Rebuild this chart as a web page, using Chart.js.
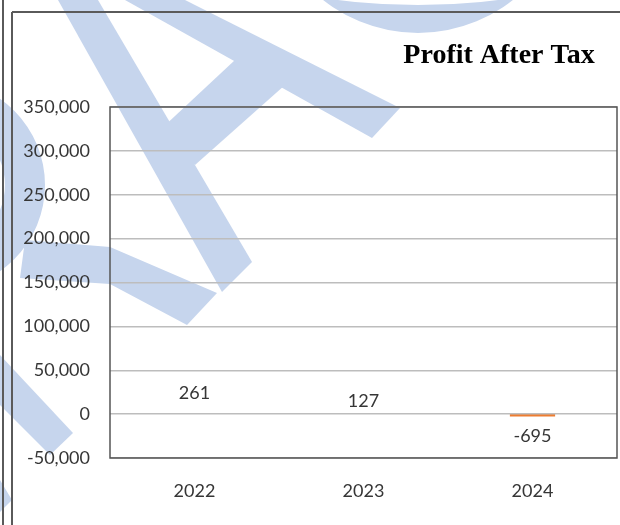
<!DOCTYPE html>
<html>
<head>
<meta charset="utf-8">
<title>Profit After Tax</title>
<script src="https://cdn.jsdelivr.net/npm/chart.js@4.4.1/dist/chart.umd.min.js"></script>
<style>
  html, body { margin: 0; padding: 0; background: #fff; }
  #wrap { width: 620px; height: 525px; position: relative; }
</style>
</head>
<body>
<div id="wrap"><canvas id="Chart"></canvas></div>
<script>
/* chart data */
const years = ['2022', '2023', '2024']
const profitAfterTax = [261, 127, -695]
const yTicks = [-50000, 0, 50000, 100000, 150000, 200000, 250000, 300000, 350000]
const chartTitle = 'Profit After Tax'
const barColors = ['#4472c4', '#4472c4', '#ed7d31']

const textFamily = 'Lato, "Liberation Sans", sans-serif'
const textColor = '#363636'

/* light blue watermark that sits behind the scan */
const watermark = {
	id: 'watermark',
	beforeDraw(chart) {
		const ctx = chart.ctx
		ctx.save()
		ctx.fillStyle = '#ffffff'
		ctx.fillRect(0, 0, chart.width, chart.height)
		ctx.fillStyle = 'rgb(198, 213, 237)'
		const poly = (pts) => {
			ctx.beginPath()
			pts.forEach(([x, y], i) => (i ? ctx.lineTo(x, y) : ctx.moveTo(x, y)))
			ctx.closePath()
			ctx.fill()
		}
		const ring = (cx, cy, r1, cx2, cy2, r2) => {
			ctx.beginPath()
			ctx.arc(cx, cy, r1, 0, Math.PI * 2)
			ctx.moveTo(cx2 + r2, cy2)
			ctx.arc(cx2, cy2, r2, 0, Math.PI * 2)
			ctx.fill('evenodd')
		}
		poly([[58, 0], [98, 0], [252, 262], [222, 292]])
		poly([[125, 0], [185, 0], [400, 108], [372, 138]])
		poly([[160, 130], [235, 60], [285, 85], [195, 165]])
		ring(418, -120, 153, 418, -637, 642)
		ring(-60, 185, 105, -60, 185, 65)
		poly([[25, 240], [110, 247], [217, 293], [187, 325], [110, 284], [20, 278]])
		poly([[0, 355], [73, 433], [50, 455], [0, 405]])
		poly([[0, 480], [12, 500], [0, 512]])
		ctx.restore()
	}
}

/* page frame, plot box and title */
const frame = {
	id: 'frame',
	afterDraw(chart) {
		const ctx = chart.ctx
		const { left, top, right, bottom } = chart.chartArea
		ctx.save()
		ctx.strokeStyle = '#5a5a5a'
		ctx.lineWidth = 2
		ctx.beginPath()
		ctx.moveTo(3, 0)
		ctx.lineTo(3, chart.height)
		ctx.moveTo(12, 12)
		ctx.lineTo(12, chart.height)
		ctx.moveTo(12, 12)
		ctx.lineTo(chart.width, 12)
		ctx.stroke()
		ctx.strokeStyle = '#555555'
		ctx.lineWidth = 1.5
		ctx.strokeRect(left, top, right - left, bottom - top)

		ctx.fillStyle = '#000000'
		ctx.font = 'bold 28px "Liberation Serif", "Times New Roman", serif'
		ctx.textAlign = 'center'
		ctx.textBaseline = 'alphabetic'
		ctx.fillText(chartTitle, 499, 63)
		ctx.restore()
	}
}

/* value labels next to each bar */
const labelLift = [21, 13, 21]
const valueLabels = {
	id: 'valueLabels',
	afterDraw(chart) {
		const ctx = chart.ctx
		const meta = chart.getDatasetMeta(0)
		const yScale = chart.scales.y
		ctx.save()
		ctx.font = `18px ${textFamily}`
		ctx.fillStyle = textColor
		ctx.textAlign = 'center'
		ctx.textBaseline = 'middle'
		profitAfterTax.forEach((v, i) => {
			const x = meta.data[i].x
			const y = yScale.getPixelForValue(v) + (v < 0 ? labelLift[i] : -labelLift[i])
			ctx.fillText(v.toLocaleString('en-US'), x, y)
		})
		ctx.restore()
	}
}

new Chart('Chart', {
	type: 'bar',
	data: {
		labels: years,
		datasets: [
			{
				label: chartTitle,
				data: profitAfterTax,
				backgroundColor: barColors,
				barPercentage: 0.25,
				categoryPercentage: 1,
				inflateAmount: (c) => (c.raw < 0 ? 1.5 : 0)
			}
		]
	},
	options: {
		responsive: true,
		maintainAspectRatio: false,
		animation: false,
		layout: { padding: { top: 107, right: 3, left: 0, bottom: 0 } },
		plugins: {
			legend: { display: false },
			title: { display: false },
			tooltip: { enabled: false }
		},
		scales: {
			x: {
				grid: { display: false, drawTicks: false },
				border: { display: false },
				ticks: {
					color: textColor,
					font: { family: textFamily, size: 18 },
					padding: 22
				},
				afterFit: (s) => { s.height = 67 }
			},
			y: {
				min: yTicks[0],
				max: yTicks[yTicks.length - 1],
				afterBuildTicks: (s) => { s.ticks = yTicks.map((v) => ({ value: v })) },
				grid: { color: '#bdbdbd', lineWidth: 1.5, drawTicks: false, z: 1 },
				border: { display: false },
				ticks: {
					color: textColor,
					font: { family: textFamily, size: 18 },
					padding: 20,
					callback: (v) => v.toLocaleString('en-US')
				},
				afterFit: (s) => { s.width = 110 }
			}
		}
	},
	plugins: [watermark, frame, valueLabels]
})
</script>
</body>
</html>
